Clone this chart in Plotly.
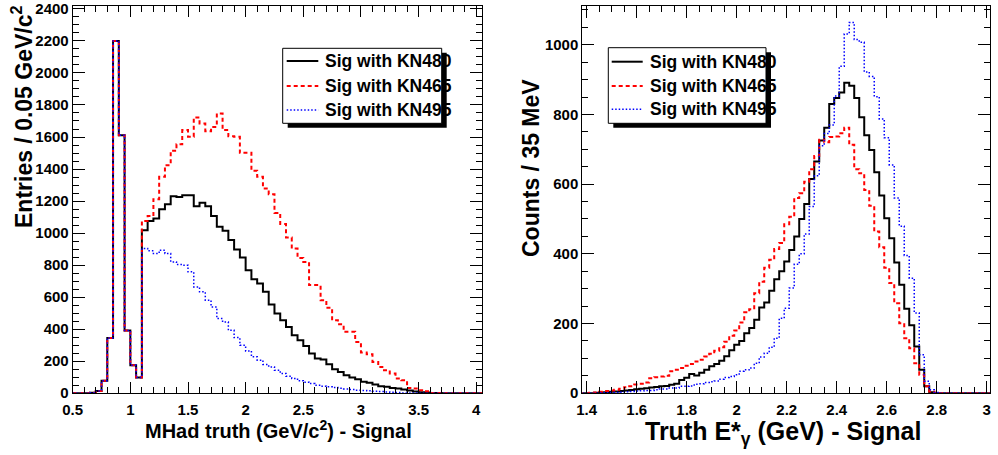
import numpy as np
import plotly.graph_objects as go

W, H = 998, 455
FONT = "Liberation Sans"

# ---------------- Left panel: MHad truth, 0.05 GeV/c^2 bins from 0.50 to 4.05
mhad_lo, mhad_width = 0.50, 0.05
mhad_common = [0, 0, 0, 3, 14, 77, 345, 2200, 1611, 392, 175, 98]
mhad_kn480 = mhad_common + [
    1018, 1076, 1091, 1149, 1180, 1230, 1226, 1237, 1237, 1168, 1189, 1168, 1106, 1039, 1014, 956, 897, 847,
    768, 712, 685, 633, 554, 498, 456, 414, 362, 331, 294, 248, 217, 210, 181, 150, 133, 112, 98, 87,
    71, 65, 54, 44, 40, 33, 29, 23, 17, 10, 6, 4, 2, 1, 0, 0, 0, 0, 0, 0, 0]
mhad_kn465 = mhad_common + [
    1076, 1106, 1212, 1351, 1424, 1514, 1555, 1643, 1601, 1722, 1685, 1636, 1663, 1747, 1643, 1605, 1601, 1501,
    1501, 1389, 1351, 1278, 1243, 1126, 1056, 972, 903, 845, 820, 675, 675, 581, 533, 456, 431, 383, 383, 320,
    254, 243, 195, 164, 143, 123, 92, 81, 33, 29, 19, 12, 2, 1, 0, 0, 0, 0, 0, 0, 0]
mhad_kn495 = mhad_common + [
    904, 889, 872, 893, 872, 820, 803, 799, 758, 664, 633, 581, 539, 466, 445, 393, 348, 300,
    264, 227, 206, 179, 164, 143, 123, 106, 92, 77, 69, 60, 50, 44, 40, 35, 31, 27, 23, 19,
    17, 15, 12, 10, 8, 6, 4, 2, 2, 1, 0, 0, 0, 0, 0, 0, 0, 0, 0, 0, 0]

# ---------------- Right panel: Truth E*gamma, 0.02 GeV bins from 1.37 to 3.03
eg_lo, eg_width = 1.37, 0.02
eg_kn480 = [0] + [
    0, 0, 1, 2, 3, 4, 5, 6, 8, 9, 11, 13, 14, 16, 18, 20, 21, 24, 27, 38,
    44, 55, 51, 59, 67, 77, 84, 93, 106, 123, 139, 150, 172, 187, 211, 246, 260, 294, 327, 350,
    378, 411, 450, 500, 543, 615, 665, 725, 762, 830, 847, 863, 891, 882, 847, 792, 740, 698, 634, 567,
    502, 445, 375, 311, 242, 195, 134, 67, 20, 3, 0, 0, 0, 0, 0, 0, 0, 0, 0, 0, 0] + [0]
eg_kn465 = [0] + [
    0, 1, 2, 4, 6, 8, 10, 13, 17, 20, 25, 27, 31, 43, 46, 48, 50, 63, 67, 72,
    79, 84, 91, 96, 105, 113, 122, 132, 148, 165, 180, 203, 232, 241, 287, 320, 360, 383, 414, 431,
    485, 506, 560, 574, 607, 643, 681, 727, 720, 735, 737, 746, 762, 713, 643, 631, 583, 538, 464, 419,
    360, 316, 258, 201, 158, 129, 86, 53, 20, 5, 0, 0, 0, 0, 0, 0, 0, 0, 0, 0, 0] + [0]
eg_kn495 = [0] + [
    0, 0, 0, 1, 1, 2, 2, 3, 4, 5, 6, 7, 8, 8, 10, 12, 12, 15, 15, 20,
    20, 21, 26, 27, 31, 33, 35, 40, 45, 48, 53, 63, 67, 72, 86, 104, 115, 132, 158, 215,
    244, 302, 370, 400, 457, 536, 624, 710, 745, 770, 853, 938, 1031, 1064, 1015, 1007, 922, 909, 851, 787,
    733, 655, 560, 479, 395, 330, 230, 110, 34, 10, 2, 0, 0, 0, 0, 0, 0, 0, 0, 0, 0] + [0]

series_names = ["Sig with KN480", "Sig with KN465", "Sig with KN495"]
series_colors = ["#000000", "#ff0000", "#0000ff"]
series_dash = ["solid", "4px,3px", "1.5px,2px"]
series_width = [2, 2, 1.5]


def step_xy(lo, width, vals):
    edges = lo + width * np.arange(len(vals) + 1)
    y = list(vals) + [vals[-1]]
    return edges, y


fig = go.Figure()
for vals_l, vals_r, name, col, dash, lw in zip(
        [mhad_kn480, mhad_kn465, mhad_kn495], [eg_kn480, eg_kn465, eg_kn495],
        series_names, series_colors, series_dash, series_width):
    x, y = step_xy(mhad_lo, mhad_width, vals_l)
    fig.add_trace(go.Scatter(x=x, y=y, mode="lines", line_shape="hv", name=name,
                             line=dict(color=col, dash=dash, width=lw),
                             xaxis="x", yaxis="y", showlegend=False, hoverinfo="skip"))
    x, y = step_xy(eg_lo, eg_width, vals_r)
    fig.add_trace(go.Scatter(x=x, y=y, mode="lines", line_shape="hv", name=name,
                             line=dict(color=col, dash=dash, width=lw),
                             xaxis="x2", yaxis="y2", showlegend=False, hoverinfo="skip"))


def px(x):
    return x / W


def py(y):
    return 1 - y / H


tickfont = dict(family=FONT, size=15, color="black", weight="bold")
common = dict(showgrid=False, zeroline=False, showline=True, linecolor="black", linewidth=1,
              mirror="allticks", ticks="inside", tickcolor="black", tickwidth=1,
              tickfont=tickfont, fixedrange=True, automargin=False)

ydom = [py(393.2), py(5.7)]
fig.update_layout(
    template="none",
    width=W, height=H, margin=dict(l=0, r=0, t=0, b=0, autoexpand=False),
    paper_bgcolor="white", plot_bgcolor="white", showlegend=False,
    xaxis=dict(domain=[px(72.7), px(482)], range=[0.5, 4.05], tickmode="linear", tick0=0.5, dtick=0.5,
               ticklen=11, ticklabelstandoff=3,
               minor=dict(dtick=0.1, tick0=0.5, ticklen=6, ticks="inside", tickcolor="black"),
               anchor="y", **common),
    yaxis=dict(domain=ydom, range=[0, 2420], tickmode="linear", tick0=0, dtick=200,
               ticklen=12, minor=dict(dtick=50, tick0=0, ticklen=6, ticks="inside", tickcolor="black"),
               anchor="x", **common),
    xaxis2=dict(domain=[px(582.3), px(990)], range=[1.3824, 3.013], tickmode="linear", tick0=1.4, dtick=0.2,
                ticklen=12, ticklabelstandoff=3,
                minor=dict(dtick=0.05, tick0=1.4, ticklen=6, ticks="inside", tickcolor="black"),
                anchor="y2", **common),
    yaxis2=dict(domain=ydom, range=[0, 1112], tickmode="linear", tick0=0, dtick=200,
                ticklen=12, minor=dict(dtick=50, tick0=0, ticklen=6, ticks="inside", tickcolor="black"),
                anchor="x2", **common),
)

# axis titles
title_font = dict(family=FONT, color="black", weight="bold")
annotations = [
    dict(text="MHad truth (GeV/c<sup>2</sup>) - Signal", x=px(278), y=py(429), size=20, angle=0),
    dict(text="Truth E*<sub>γ</sub> (GeV) - Signal", x=px(783), y=py(433), size=25, angle=0),
    dict(text="Entries / 0.05 GeV/c<sup>2</sup>", x=px(22), y=py(117), size=23, angle=-90),
    dict(text="Counts / 35 MeV", x=px(531), y=py(168), size=23, angle=-90),
]
for a in annotations:
    fig.add_annotation(text=a["text"], x=a["x"], y=a["y"], xref="paper", yref="paper",
                       xanchor="center", yanchor="middle", showarrow=False, textangle=a["angle"],
                       font=dict(size=a["size"], **title_font))

# legends (box with shadow, drawn in pixel positions)
legends = [
    dict(box=(282.7, 48.3, 441.7, 123.3), line=(286.7, 318.3), text_x=323.3, rows=(61, 86, 110)),
    dict(box=(608.3, 47.7, 766.0, 123.3), line=(611.7, 642.7), text_x=648.3, rows=(61.7, 86, 109.3)),
]
for lg in legends:
    x0, y0, x1, y1 = lg["box"]
    fig.add_shape(type="rect", xref="paper", yref="paper", x0=px(x0 + 5), x1=px(x1 + 5),
                  y0=py(y1 + 4.5), y1=py(y0 + 4.5), fillcolor="black", line=dict(width=0), layer="above")
    fig.add_shape(type="rect", xref="paper", yref="paper", x0=px(x0), x1=px(x1),
                  y0=py(y1), y1=py(y0), fillcolor="white", line=dict(color="black", width=1), layer="above")
    for row, name, col, dash, lw in zip(lg["rows"], series_names, series_colors, series_dash, series_width):
        fig.add_shape(type="line", xref="paper", yref="paper", x0=px(lg["line"][0]), x1=px(lg["line"][1]),
                      y0=py(row), y1=py(row), line=dict(color=col, dash=dash, width=lw), layer="above")
        fig.add_annotation(text=name, x=px(lg["text_x"]), y=py(row), xref="paper", yref="paper",
                           xanchor="left", yanchor="middle", showarrow=False,
                           font=dict(size=17.5, family=FONT, color="black", weight="bold"))

fig.write_html("out.html")
